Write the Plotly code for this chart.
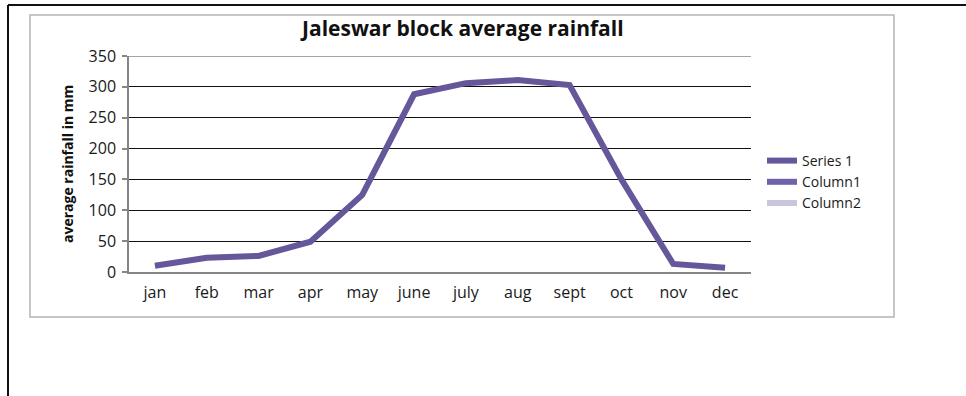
import plotly.graph_objects as go

# Monthly average rainfall (mm), Jaleswar block
months = ["jan", "feb", "mar", "apr", "may", "june", "july", "aug", "sept", "oct", "nov", "dec"]
series1 = [10, 23, 26, 49, 125, 288, 306, 311, 303, 150, 13, 7]
column1 = [None] * 12
column2 = [None] * 12
y_ticks = [0, 50, 100, 150, 200, 250, 300, 350]

W, H = 966, 396


def px_x(x):
    return x / W


def px_y(y):
    return 1 - y / H


FONT = "Open Sans"

fig = go.Figure()
fig.add_trace(go.Scatter(x=months, y=series1, mode="lines", name="Series 1",
                         line=dict(color="#66569A", width=6)))
fig.add_trace(go.Scatter(x=months, y=column1, mode="lines", name="Column1",
                         line=dict(color="#7262AA", width=6)))
fig.add_trace(go.Scatter(x=months, y=column2, mode="lines", name="Column2",
                         line=dict(color="#C9C5DC", width=6)))

shapes = [
    # outer black frame (left and top edges)
    dict(type="line", xref="paper", yref="paper", x0=px_x(8), x1=px_x(8), y0=0, y1=px_y(5),
         line=dict(color="#111111", width=2)),
    dict(type="line", xref="paper", yref="paper", x0=px_x(8), x1=1, y0=px_y(5), y1=px_y(5),
         line=dict(color="#111111", width=2)),
    # chart area border
    dict(type="rect", xref="paper", yref="paper", x0=px_x(30), x1=px_x(894), y0=px_y(317), y1=px_y(15),
         line=dict(color="#B4B4B4", width=1.5)),
    # top edge of plot area
    dict(type="line", xref="x domain", yref="y", x0=0, x1=1, y0=350, y1=350,
         line=dict(color="#868686", width=1.5)),
]

fig.update_layout(
    template="none",
    width=W, height=H, autosize=False,
    margin=dict(l=0, r=0, t=0, b=0, pad=0, autoexpand=False),
    paper_bgcolor="white", plot_bgcolor="white",
    font=dict(family=FONT, color="#1a1a1a", size=14),
    showlegend=True,
    legend=dict(x=px_x(762), y=px_y(145), xanchor="left", yanchor="top",
                font=dict(family=FONT, size=14, color="#1a1a1a"),
                bgcolor="rgba(0,0,0,0)", itemwidth=30, borderwidth=0),
    xaxis=dict(domain=[px_x(129), px_x(751)], type="category", automargin=False,
               range=[-0.5, 11.5], showgrid=False, zeroline=False,
               showline=True, linecolor="#868686", linewidth=1.5,
               ticks="", tickfont=dict(size=16), ticklabelstandoff=5),
    yaxis=dict(domain=[px_y(272), px_y(56)], range=[0, 350], tickvals=y_ticks, automargin=False,
               showgrid=True, gridcolor="#111111", gridwidth=1, zeroline=False,
               showline=True, linecolor="#868686", linewidth=1.5,
               ticks="outside", ticklen=5, tickcolor="#868686", tickwidth=1.5,
               tickfont=dict(size=16), ticklabelstandoff=3),
    shapes=shapes,
    annotations=[
        dict(text="<b>Jaleswar block average rainfall</b>", xref="paper", yref="paper",
             x=px_x(462), y=px_y(28), xanchor="center", yanchor="middle", showarrow=False,
             font=dict(family=FONT, size=21, color="#111111")),
        dict(text="<b>average rainfall in mm</b>", xref="paper", yref="paper",
             x=px_x(67), y=px_y(164), xanchor="center", yanchor="middle", showarrow=False,
             textangle=-90, font=dict(family=FONT, size=14, color="#111111")),
    ],
)

fig.write_html("out.html")
